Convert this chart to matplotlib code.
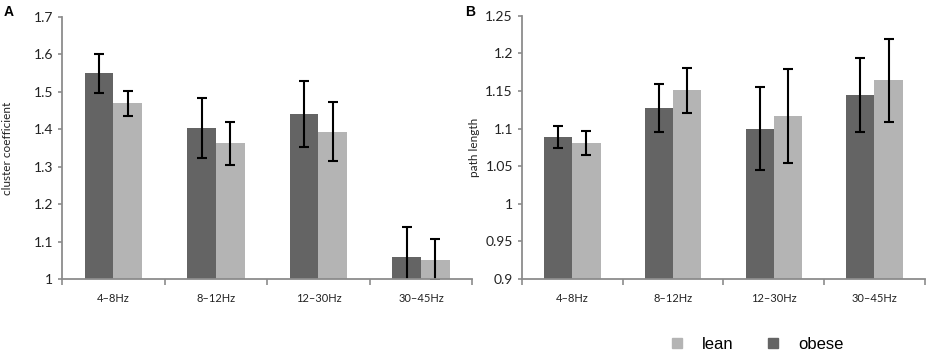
import numpy as np
import matplotlib.pyplot as plt
from matplotlib.lines import Line2D

bands = ['4–8Hz', '8–12Hz', '12–30Hz', '30–45Hz']

# cluster coefficient (panel A)
cc_obese = [1.549, 1.403, 1.440, 1.060]
cc_obese_err = [0.052, 0.081, 0.088, 0.078]
cc_lean = [1.469, 1.362, 1.394, 1.052]
cc_lean_err = [0.034, 0.058, 0.078, 0.054]

# path length (panel B)
pl_obese = [1.0885, 1.1274, 1.100, 1.1447]
pl_obese_err = [0.0147, 0.0314, 0.055, 0.049]
pl_lean = [1.0814, 1.1509, 1.1168, 1.1642]
pl_lean_err = [0.0159, 0.0296, 0.062, 0.0556]

dark = '#646464'
light = '#b4b4b4'
axcol = '#8c8c8c'

plt.rcParams['font.family'] = ['Lato', 'DejaVu Sans']

fig = plt.figure(figsize=(9.26, 3.57), dpi=100)
axA = fig.add_axes([0.067, 0.2185, 0.443, 0.734])
axB = fig.add_axes([0.5637, 0.2185, 0.435, 0.737])

def draw(ax, obese, obese_err, lean, lean_err, ylim, yticks, ylabel, yfmt):
    x = np.arange(len(bands))
    w = 0.28
    ax.bar(x - w / 2, obese, w, color=dark)
    ax.bar(x + w / 2, lean, w, color=light)
    ax.errorbar(x - w / 2, obese, yerr=obese_err, fmt='none', ecolor='black',
                elinewidth=1.5, capsize=3.5, capthick=1.5)
    ax.errorbar(x + w / 2, lean, yerr=lean_err, fmt='none', ecolor='black',
                elinewidth=1.5, capsize=3.5, capthick=1.5)
    ax.set_xlim(-0.5, len(bands) - 0.5)
    ax.set_ylim(*ylim)
    ax.set_yticks(yticks)
    ax.set_yticklabels([yfmt(v) for v in yticks], fontsize=10, color='#222222')
    ax.set_xticks(x)
    ax.set_xticklabels(bands, fontsize=8, color='#222222')
    ax.tick_params(axis='x', which='major', length=0, pad=10)
    ax.set_xticks(np.arange(len(bands) + 1) - 0.5, minor=True)
    ax.tick_params(axis='x', which='minor', length=4, color=axcol, width=1.2)
    ax.tick_params(axis='y', length=3, color=axcol, width=1.2)
    ax.set_ylabel(ylabel, fontsize=8.5, color='#222222')
    for s in ['top', 'right']:
        ax.spines[s].set_visible(False)
    for s in ['left', 'bottom']:
        ax.spines[s].set_color(axcol)
        ax.spines[s].set_linewidth(1.3)

def fmt(v):
    return ('%.2f' % v).rstrip('0').rstrip('.')

draw(axA, cc_obese, cc_obese_err, cc_lean, cc_lean_err, (1.0, 1.7),
     np.round(np.arange(1.0, 1.71, 0.1), 2), 'cluster coefficient', fmt)
draw(axB, pl_obese, pl_obese_err, pl_lean, pl_lean_err, (0.9, 1.25),
     np.round(np.arange(0.9, 1.251, 0.05), 2), 'path length', fmt)
axA.yaxis.set_label_coords(-0.12, 0.5)
axB.yaxis.set_label_coords(-0.105, 0.5)

fig.text(0.004, 0.955, 'A', fontsize=10, fontweight='bold', family='Liberation Sans')
fig.text(0.502, 0.955, 'B', fontsize=10, fontweight='bold', family='Liberation Sans')

handles = [Line2D([], [], marker='s', linestyle='none', markersize=7, color=light),
           Line2D([], [], marker='s', linestyle='none', markersize=7, color=dark)]
fig.legend(handles, ['lean', 'obese'], loc='center', bbox_to_anchor=(0.812, 0.035),
           ncol=2, frameon=False, prop={'family': 'Liberation Sans', 'size': 12},
           handletextpad=0.5, columnspacing=1.4)

fig.savefig('out.png', dpi=100)
